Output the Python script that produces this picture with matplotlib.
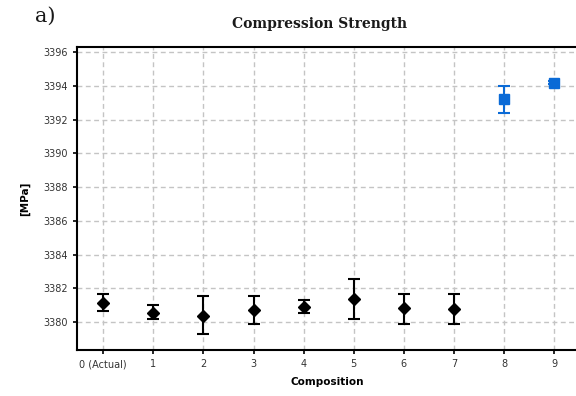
import matplotlib.pyplot as plt

# Data
labels = ['0 (Actual)', '1', '2', '3', '4', '5', '6', '7', '8', '9']
comp_black = [0, 1, 2, 3, 4, 5, 6, 7]
mean_black = [3381.15, 3380.57, 3380.38, 3380.73, 3380.92, 3381.38, 3380.84, 3380.77]
low_black = [3380.67, 3380.19, 3379.29, 3379.87, 3380.55, 3380.22, 3379.87, 3379.87]
high_black = [3381.66, 3381.00, 3381.56, 3381.56, 3381.33, 3382.55, 3381.66, 3381.66]

comp_blue = [8, 9]
mean_blue = [3393.2, 3394.2]
low_blue = [3392.4, 3394.1]
high_blue = [3394.0, 3394.3]

err_black = [[m - l for m, l in zip(mean_black, low_black)],
             [h - m for m, h in zip(mean_black, high_black)]]
err_blue = [[m - l for m, l in zip(mean_blue, low_blue)],
            [h - m for m, h in zip(mean_blue, high_blue)]]

fig = plt.figure(figsize=(5.76, 3.96), dpi=100)
ax = fig.add_axes([0.134, 0.116, 0.87, 0.765])

ax.errorbar(comp_black, mean_black, yerr=err_black, fmt='D', color='black',
            markersize=6, elinewidth=1.5, capsize=4, capthick=1.5)
ax.errorbar(comp_blue, mean_blue, yerr=err_blue, fmt='s', color='#0a6ad6',
            markersize=7, elinewidth=1.5, capsize=4, capthick=1.5)

ax.set_xlim(-0.52, 9.48)
ax.set_ylim(3378.35, 3396.3)
ax.set_xticks(range(len(labels)))
ax.set_xticklabels(labels)
ax.set_yticks(range(3380, 3397, 2))
ax.tick_params(labelsize=7, colors='black', length=3, width=1.2)
for lab in ax.get_xticklabels() + ax.get_yticklabels():
    lab.set_color('#333333')

ax.grid(True, linestyle=(0, (3.5, 2.5)), color='#c4c4c4', linewidth=1)
ax.set_axisbelow(True)
for s in ['left', 'bottom', 'top']:
    ax.spines[s].set_linewidth(1.5)
ax.spines['right'].set_visible(False)

ax.set_xlabel('Composition', fontsize=7.5, fontweight='bold', labelpad=6)
ax.set_ylabel('[MPa]', fontsize=7.5, fontweight='bold', labelpad=10)

fig.text(0.555, 0.94, 'Compression Strength', fontsize=10, fontweight='bold',
         family='DejaVu Serif', ha='center', va='center', color='#1a1a1a')
fig.text(0.06, 0.96, 'a)', fontsize=15, family='DejaVu Serif',
         ha='left', va='center', color='#1a1a1a')

fig.savefig('out.png', dpi=100)
